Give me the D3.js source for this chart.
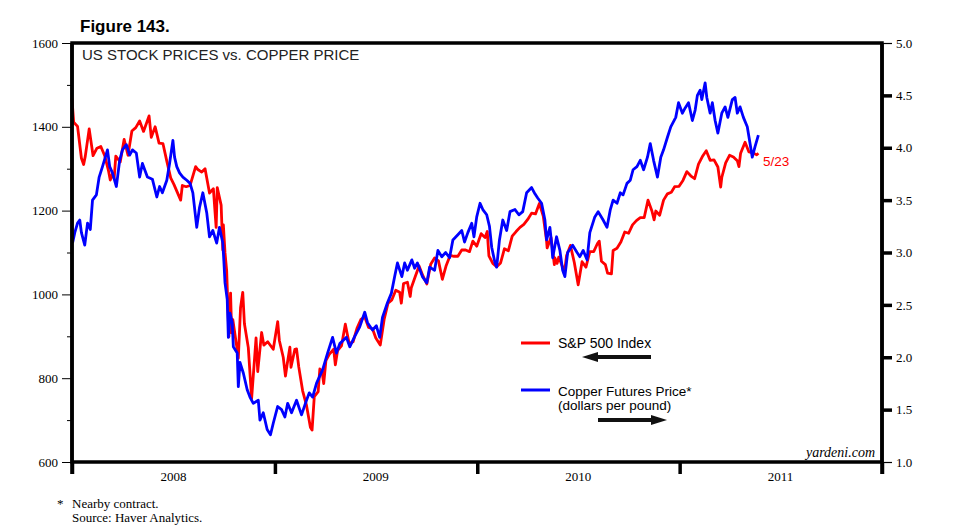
<!DOCTYPE html>
<html><head><meta charset="utf-8">
<script src="https://cdn.jsdelivr.net/npm/d3@7"></script>
<style>body{margin:0;background:#fff}svg{display:block}</style>
</head><body>
<svg id="c" width="955" height="532"></svg>
<script>
// ---- data ----
const spxDates = ["2008-01-01","2008-01-02","2008-01-04","2008-01-11","2008-01-18","2008-01-22","2008-01-25","2008-02-01","2008-02-08","2008-02-15","2008-02-22","2008-02-29","2008-03-07","2008-03-10","2008-03-14","2008-03-17","2008-03-20","2008-03-28","2008-04-04","2008-04-11","2008-04-18","2008-04-25","2008-05-02","2008-05-09","2008-05-19","2008-05-23","2008-05-30","2008-06-06","2008-06-13","2008-06-20","2008-06-27","2008-07-03","2008-07-15","2008-07-18","2008-07-25","2008-08-01","2008-08-11","2008-08-15","2008-08-22","2008-08-28","2008-09-05","2008-09-12","2008-09-17","2008-09-19","2008-09-26","2008-09-29","2008-09-30","2008-10-03","2008-10-06","2008-10-10","2008-10-13","2008-10-15","2008-10-17","2008-10-24","2008-10-27","2008-10-31","2008-11-04","2008-11-07","2008-11-14","2008-11-20","2008-11-28","2008-12-01","2008-12-08","2008-12-12","2008-12-19","2008-12-29",
"2009-01-06","2009-01-09","2009-01-16","2009-01-20","2009-01-23","2009-01-28","2009-01-30","2009-02-06","2009-02-09","2009-02-13","2009-02-20","2009-02-27","2009-03-06","2009-03-09","2009-03-13","2009-03-20","2009-03-23","2009-03-27","2009-03-30","2009-04-03","2009-04-09","2009-04-17","2009-04-20","2009-04-24","2009-05-01","2009-05-08","2009-05-15","2009-05-22","2009-05-29","2009-06-05","2009-06-12","2009-06-19","2009-06-26","2009-07-02","2009-07-10","2009-07-17","2009-07-24","2009-07-31","2009-08-07","2009-08-14","2009-08-17","2009-08-21","2009-08-28","2009-09-02","2009-09-04","2009-09-11","2009-09-18","2009-09-25","2009-10-02","2009-10-09","2009-10-16","2009-10-23","2009-10-30","2009-11-06","2009-11-13","2009-11-20","2009-11-27","2009-12-04","2009-12-11","2009-12-18","2009-12-24","2009-12-31",
"2010-01-08","2010-01-15","2010-01-19","2010-01-22","2010-01-29","2010-02-05","2010-02-12","2010-02-19","2010-02-26","2010-03-05","2010-03-12","2010-03-19","2010-03-26","2010-04-02","2010-04-09","2010-04-16","2010-04-23","2010-04-30","2010-05-06","2010-05-07","2010-05-14","2010-05-20","2010-05-21","2010-05-25","2010-05-28","2010-06-04","2010-06-07","2010-06-11","2010-06-18","2010-06-25","2010-07-02","2010-07-09","2010-07-16","2010-07-23","2010-07-30","2010-08-06","2010-08-09","2010-08-13","2010-08-20","2010-08-24","2010-08-31","2010-09-03","2010-09-10","2010-09-17","2010-09-24","2010-10-01","2010-10-08","2010-10-15","2010-10-22","2010-10-29","2010-11-05","2010-11-12","2010-11-16","2010-11-19","2010-11-26","2010-12-03","2010-12-10","2010-12-17","2010-12-23","2010-12-31",
"2011-01-07","2011-01-14","2011-01-21","2011-01-28","2011-02-04","2011-02-11","2011-02-18","2011-02-25","2011-03-04","2011-03-11","2011-03-16","2011-03-18","2011-03-25","2011-04-01","2011-04-08","2011-04-15","2011-04-18","2011-04-21","2011-04-29","2011-05-06","2011-05-13","2011-05-20","2011-05-23"];
const spxValues = [1468,1447,1411,1401,1325,1310,1330,1395,1331,1349,1353,1331,1294,1273,1288,1277,1330,1316,1370,1332,1390,1398,1414,1389,1426,1375,1400,1361,1360,1318,1278,1262,1225,1260,1257,1260,1305,1298,1292,1300,1242,1252,1160,1255,1213,1106,1166,1099,1056,899,1003,908,940,877,848,968,1005,930,873,752,896,816,909,879,887,869,
935,890,850,805,832,874,826,869,870,827,770,735,683,676,756,768,822,816,787,842,857,869,832,866,877,929,882,887,919,940,946,921,918,896,879,940,979,987,1010,1005,979,1026,1029,995,1016,1042,1068,1044,1025,1072,1087,1080,1036,1069,1093,1091,1091,1106,1106,1102,1127,1115,
1145,1136,1150,1092,1074,1066,1075,1109,1104,1139,1150,1160,1167,1179,1194,1192,1217,1187,1128,1111,1136,1071,1087,1074,1089,1065,1050,1092,1117,1076,1023,1078,1065,1102,1102,1122,1127,1079,1071,1051,1049,1105,1110,1125,1149,1146,1166,1176,1183,1183,1225,1199,1178,1199,1189,1225,1240,1244,1257,1258,
1272,1293,1283,1276,1311,1329,1343,1320,1321,1304,1256,1279,1314,1332,1328,1319,1305,1337,1363,1340,1338,1333,1337];

const cuDates = ["2008-01-02","2008-01-06","2008-01-11","2008-01-15","2008-01-18","2008-01-24","2008-01-29","2008-02-03","2008-02-07","2008-02-14","2008-02-19","2008-02-25","2008-03-05","2008-03-09","2008-03-14","2008-03-21","2008-03-27","2008-04-01","2008-04-08","2008-04-14","2008-04-19","2008-04-26","2008-05-02","2008-05-07","2008-05-16","2008-05-25","2008-06-02","2008-06-07","2008-06-12","2008-06-20","2008-06-25","2008-07-01","2008-07-04","2008-07-08","2008-07-13","2008-07-19","2008-07-26","2008-08-01","2008-08-06","2008-08-10","2008-08-13","2008-08-18","2008-08-24","2008-08-31","2008-09-05","2008-09-11","2008-09-18","2008-09-23","2008-09-29","2008-10-01","2008-10-03","2008-10-07","2008-10-09","2008-10-12","2008-10-16","2008-10-18","2008-10-25","2008-10-27","2008-10-30","2008-11-05","2008-11-12","2008-11-17","2008-11-23","2008-12-02","2008-12-05","2008-12-11","2008-12-18","2008-12-24","2008-12-29",
"2009-01-06","2009-01-13","2009-01-19","2009-01-24","2009-01-31","2009-02-09","2009-02-18","2009-02-27","2009-03-04","2009-03-10","2009-03-17","2009-03-22","2009-03-28","2009-04-06","2009-04-15","2009-04-22","2009-04-28","2009-05-10","2009-05-16","2009-05-25","2009-06-03","2009-06-12","2009-06-17","2009-06-26","2009-07-03","2009-07-09","2009-07-14","2009-07-23","2009-07-30","2009-08-05","2009-08-10","2009-08-18","2009-08-23","2009-08-28","2009-09-05","2009-09-10","2009-09-15","2009-09-24","2009-10-02","2009-10-07","2009-10-16","2009-10-22","2009-10-29","2009-11-05","2009-11-12","2009-11-18","2009-11-27","2009-12-04","2009-12-09","2009-12-15","2009-12-22","2009-12-26","2009-12-31",
"2010-01-06","2010-01-11","2010-01-18","2010-01-23","2010-01-27","2010-02-02","2010-02-05","2010-02-10","2010-02-16","2010-02-23","2010-03-01","2010-03-10","2010-03-17","2010-03-24","2010-03-31","2010-04-09","2010-04-15","2010-04-20","2010-04-27","2010-05-03","2010-05-06","2010-05-12","2010-05-15","2010-05-17","2010-05-24","2010-05-30","2010-06-04","2010-06-08","2010-06-13","2010-06-22","2010-06-30","2010-07-05","2010-07-11","2010-07-18","2010-07-23","2010-08-01","2010-08-07","2010-08-16","2010-08-23","2010-08-29","2010-09-03","2010-09-10","2010-09-16","2010-09-21","2010-09-28","2010-10-04","2010-10-09","2010-10-16","2010-10-22","2010-10-28","2010-11-04","2010-11-09","2010-11-15","2010-11-22","2010-11-28","2010-12-03","2010-12-10","2010-12-16","2010-12-25","2010-12-30",
"2011-01-06","2011-01-11","2011-01-17","2011-01-24","2011-01-29","2011-02-02","2011-02-07","2011-02-10","2011-02-16","2011-02-19","2011-02-25","2011-03-01","2011-03-06","2011-03-11","2011-03-18","2011-03-24","2011-03-29","2011-04-06","2011-04-11","2011-04-15","2011-04-20","2011-04-26","2011-05-03","2011-05-08","2011-05-12","2011-05-17","2011-05-23"];
const cuValues = [3.09,3.19,3.28,3.31,3.19,3.07,3.28,3.22,3.50,3.55,3.72,3.82,3.98,3.82,3.76,3.63,3.88,3.98,4.03,3.93,3.98,3.95,3.72,3.85,3.72,3.70,3.53,3.63,3.57,3.69,3.85,4.07,3.91,3.82,3.76,3.72,3.69,3.66,3.57,3.38,3.24,3.43,3.57,3.38,3.15,3.21,3.09,3.24,3.09,2.91,2.71,2.55,2.19,2.42,2.33,2.10,2.04,1.72,1.95,1.85,1.69,1.62,1.56,1.59,1.40,1.47,1.31,1.26,1.37,
1.53,1.50,1.43,1.56,1.47,1.59,1.45,1.59,1.66,1.62,1.75,1.81,1.88,2.04,2.19,2.04,2.13,2.19,2.10,2.20,2.29,2.43,2.33,2.26,2.30,2.19,2.38,2.52,2.61,2.77,2.90,2.77,2.90,2.83,2.93,2.85,2.90,2.77,2.71,2.86,2.83,3.02,2.96,3.00,2.95,3.12,3.17,3.21,3.10,3.19,3.28,3.15,3.34,
3.47,3.41,3.36,3.25,3.05,2.90,2.86,3.12,3.31,3.21,3.39,3.41,3.36,3.39,3.57,3.62,3.56,3.52,3.47,3.31,3.12,3.24,3.09,2.95,3.15,3.02,2.83,2.77,3.00,3.07,3.00,2.96,3.02,2.93,3.19,3.34,3.39,3.31,3.24,3.41,3.50,3.47,3.57,3.55,3.66,3.69,3.79,3.82,3.88,3.79,3.91,4.04,3.88,3.72,3.91,3.98,4.10,4.20,4.29,4.43,
4.33,4.38,4.43,4.26,4.36,4.50,4.55,4.46,4.62,4.48,4.33,4.43,4.26,4.14,4.33,4.39,4.29,4.46,4.48,4.33,4.39,4.29,4.20,4.04,3.91,4.01,4.12];

const leftTicks = [600,800,1000,1200,1400,1600];
const leftMinor = [700,900,1100,1300,1500];
const rightTicks = [1.0,1.5,2.0,2.5,3.0,3.5,4.0,4.5,5.0];
const yearLabels = ["2008","2009","2010","2011"];

// ---- drawing ----
const parse = d3.timeParse("%Y-%m-%d");
const svg = d3.select("#c");
const L = 72, R = 882, T = 43, B = 462;
const x = d3.scaleTime().domain([new Date(2008,0,1), new Date(2012,0,1)]).range([L, R]);
const yL = d3.scaleLinear().domain([600,1600]).range([B, T]);
const yR = d3.scaleLinear().domain([1,5]).range([B, T]);
const serif = "'Liberation Serif','Times New Roman',serif";
const sans = "'Liberation Sans',Arial,sans-serif";

const spx = spxDates.map((d,i)=>({d:parse(d), v:spxValues[i]}));
const cu = cuDates.map((d,i)=>({d:parse(d), v:cuValues[i]}));

const g = svg.append("g");
g.append("path").datum(spx)
  .attr("d", d3.line().x(p=>x(p.d)).y(p=>yL(p.v)))
  .attr("fill","none").attr("stroke","#ff0000").attr("stroke-width",2.8).attr("stroke-linejoin","round");
g.append("path").datum(cu)
  .attr("d", d3.line().x(p=>x(p.d)).y(p=>yR(p.v)))
  .attr("fill","none").attr("stroke","#0000ff").attr("stroke-width",2.8).attr("stroke-linejoin","round");

// left axis
const la = svg.append("g").attr("transform",`translate(${L},0)`)
  .call(d3.axisLeft(yL).tickValues(leftTicks).tickSize(10).tickPadding(4).tickFormat(d3.format("d")));
la.select(".domain").remove();
la.selectAll("text").attr("font-family",serif).attr("font-size",13).attr("fill","#000");
la.selectAll("line").attr("stroke","#000").attr("stroke-width",1);
const lm = svg.append("g").attr("transform",`translate(${L},0)`)
  .call(d3.axisLeft(yL).tickValues(leftMinor).tickSize(5).tickFormat(""));
lm.select(".domain").remove();
lm.selectAll("line").attr("stroke","#000");

// right axis
const ra = svg.append("g").attr("transform",`translate(${R},0)`)
  .call(d3.axisRight(yR).tickValues(rightTicks).tickSize(10).tickPadding(4).tickFormat(d3.format(".1f")));
ra.select(".domain").remove();
ra.selectAll("text").attr("font-family",serif).attr("font-size",13).attr("fill","#000");
ra.selectAll("line").attr("stroke","#000").attr("stroke-width",(d)=> (d===5||d===1)?1.2:3.5);

// bottom axis: year boundary ticks and centered labels
const yearStarts = yearLabels.map(s=>new Date(+s,0,1)).concat([new Date(2012,0,1)]);
const ba = svg.append("g").attr("transform",`translate(0,${B})`)
  .call(d3.axisBottom(x).tickValues(yearStarts).tickSize(12).tickFormat(""));
ba.select(".domain").remove();
ba.selectAll("line").attr("stroke","#000").attr("stroke-width",3.5);
svg.append("g").selectAll("text").data(yearLabels).join("text")
  .attr("x", s=>x(new Date(+s,6,2))).attr("y", 481)
  .attr("text-anchor","middle").attr("font-family",serif).attr("font-size",13).text(s=>s);

// frame
svg.append("rect").attr("x",L).attr("y",T).attr("width",R-L).attr("height",B-T)
  .attr("fill","none").attr("stroke","#000").attr("stroke-width",3.5);
svg.append("line").attr("x1",L).attr("x2",L).attr("y1",T).attr("y2",B+12).attr("stroke","#000").attr("stroke-width",3.5);
svg.append("line").attr("x1",R).attr("x2",R).attr("y1",T).attr("y2",B+12).attr("stroke","#000").attr("stroke-width",3.5);

// texts
svg.append("text").attr("x",80).attr("y",32).attr("font-family",sans).attr("font-weight","bold").attr("font-size",17).text("Figure 143.");
svg.append("text").attr("x",82).attr("y",60).attr("font-family",sans).attr("font-size",15).attr("fill","#222").text("US STOCK PRICES vs. COPPER PRICE");
svg.append("text").attr("x",763).attr("y",166).attr("font-family",sans).attr("font-size",13.5).attr("fill","#ff0000").text("5/23");
svg.append("text").attr("x",875).attr("y",457).attr("text-anchor","end").attr("font-family",serif).attr("font-style","italic").attr("font-size",14).text("yardeni.com");

// legend
svg.append("line").attr("x1",521).attr("x2",550).attr("y1",343).attr("y2",343).attr("stroke","#ff0000").attr("stroke-width",3);
svg.append("text").attr("x",558).attr("y",348).attr("font-family",sans).attr("font-size",14).text("S&P 500 Index");
svg.append("line").attr("x1",521).attr("x2",550).attr("y1",390).attr("y2",390).attr("stroke","#0000ff").attr("stroke-width",3);
svg.append("text").attr("x",558).attr("y",395.5).attr("font-family",sans).attr("font-size",13.5).text("Copper Futures Price*");
svg.append("text").attr("x",558).attr("y",409.5).attr("font-family",sans).attr("font-size",13.5).text("(dollars per pound)");
function arrow(x1,x2,y,dir){
  const hx = dir<0 ? x1 : x2, hl = 16*(dir<0?1:-1);
  svg.append("line").attr("x1",x1 + (dir<0?hl-2:0)).attr("x2",x2 + (dir>0?hl+2:0)).attr("y1",y).attr("y2",y).attr("stroke","#111").attr("stroke-width",4);
  svg.append("path").attr("d",`M${hx},${y} L${hx+hl},${y-5} L${hx+hl},${y+5} Z`).attr("fill","#111");
}
arrow(582,651,357,-1);
arrow(598,667,420,1);

// footnotes
svg.append("text").attr("x",57).attr("y",508).attr("font-family",serif).attr("font-size",13).text("*");
svg.append("text").attr("x",72).attr("y",508).attr("font-family",serif).attr("font-size",13).text("Nearby contract.");
svg.append("text").attr("x",72).attr("y",522).attr("font-family",serif).attr("font-size",13).text("Source: Haver Analytics.");
</script>
</body></html>
